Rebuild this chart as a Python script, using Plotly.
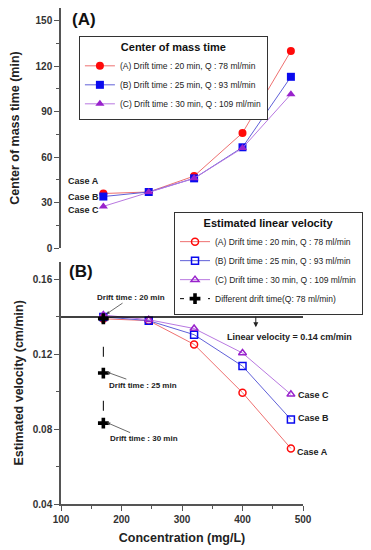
import plotly.graph_objects as go

# ---------------- data ----------------
conc = [170, 245, 320, 400, 480]
com_A = [36, 37, 47.5, 76, 130]
com_B = [34, 37, 46, 66.5, 113]
com_C = [27.5, 37, 46, 66, 101.5]
vel_A = [0.139, 0.138, 0.1253, 0.0995, 0.0697]
vel_B = [0.140, 0.138, 0.1305, 0.1137, 0.0852]
vel_C = [0.141, 0.1385, 0.1338, 0.1207, 0.0986]
drift_conc = [170, 170, 170]
drift_vel = [0.139, 0.110, 0.0832]
linear_velocity = 0.14

names_A = "(A) Drift time : 20 min, Q : 78 ml/min"
names_B = "(B) Drift time : 25 min, Q : 93 ml/min"
names_C = "(C) Drift time : 30 min, Q : 109 ml/min"
name_D = "Different drift time(Q: 78 ml/min)"

FONT = "Arial, Liberation Sans, sans-serif"
RED, RED_L = "#ff0a0a", "#ee7070"
BLUE, BLUE_L = "#0a0aee", "#6060d8"
PUR, PUR_L = "#9922cc", "#b878e0"
AX = "#555555"

fig = go.Figure()

# top panel: center of mass time
fig.add_trace(go.Scatter(x=conc, y=com_A, name=names_A, mode="lines+markers",
                         line=dict(color=RED_L, width=1), marker=dict(symbol="circle", size=8, color=RED),
                         xaxis="x2", yaxis="y2", legend="legend"))
fig.add_trace(go.Scatter(x=conc, y=com_B, name=names_B, mode="lines+markers",
                         line=dict(color=BLUE_L, width=1), marker=dict(symbol="square", size=8, color=BLUE),
                         xaxis="x2", yaxis="y2", legend="legend"))
fig.add_trace(go.Scatter(x=conc, y=com_C, name=names_C, mode="lines+markers",
                         line=dict(color=PUR_L, width=1), marker=dict(symbol="triangle-up", size=8, color=PUR),
                         xaxis="x2", yaxis="y2", legend="legend"))

# bottom panel: estimated velocity
fig.add_trace(go.Scatter(x=conc, y=vel_A, name=names_A, mode="lines+markers",
                         line=dict(color=RED_L, width=1),
                         marker=dict(symbol="circle-open", size=7, color=RED, line=dict(width=1.5)),
                         xaxis="x", yaxis="y", legend="legend2"))
fig.add_trace(go.Scatter(x=conc, y=vel_B, name=names_B, mode="lines+markers",
                         line=dict(color=BLUE_L, width=1),
                         marker=dict(symbol="square-open", size=7, color=BLUE, line=dict(width=1.5)),
                         xaxis="x", yaxis="y", legend="legend2"))
fig.add_trace(go.Scatter(x=conc, y=vel_C, name=names_C, mode="lines+markers",
                         line=dict(color=PUR_L, width=1),
                         marker=dict(symbol="triangle-up-open", size=7, color=PUR, line=dict(width=1.5)),
                         xaxis="x", yaxis="y", legend="legend2"))
fig.add_trace(go.Scatter(x=drift_conc, y=drift_vel, name=name_D, mode="lines+markers",
                         line=dict(color="black", width=1, dash="4px,24px,10px,16px"),
                         marker=dict(symbol="cross", size=9, color="black"),
                         xaxis="x", yaxis="y", legend="legend2"))

# linear velocity reference line
fig.add_shape(type="line", xref="x", yref="y", x0=100, x1=502,
              y0=linear_velocity, y1=linear_velocity, line=dict(color="black", width=1.5))

axis_common = dict(showline=True, linecolor=AX, linewidth=1.5, ticks="outside", ticklen=5,
                   tickcolor=AX, tickwidth=1.2, showgrid=False, zeroline=False, automargin=False,
                   tickfont=dict(family=FONT, size=10, color="#333"))

# page body has an 8px margin: figure pixels = picture pixels - 8
fig.update_layout(
    width=371, height=550,
    margin=dict(l=53, r=76, t=0, b=54, autoexpand=False),
    paper_bgcolor="white", plot_bgcolor="white",
    font=dict(family=FONT, color="#222"),
    showlegend=True,
    xaxis=dict(domain=[0, 1], range=[100, 500], anchor="y", tick0=100, dtick=100,
               tickprefix="<b>", ticksuffix="</b>",
               minor=dict(ticks="outside", ticklen=3, dtick=50, tickcolor=AX),
               title=dict(text="<b>Concentration (mg/L)</b>", font=dict(size=12.5, family=FONT, color="#222"),
                          standoff=9),
               **axis_common),
    yaxis=dict(domain=[0, 0.4885], range=[0.04, 0.1695], anchor="x", tick0=0.04, dtick=0.04,
               tickformat=".2f", tickprefix="<b>", ticksuffix="</b>",
               minor=dict(ticks="outside", ticklen=3, dtick=0.02, tickcolor=AX),
               title=dict(text="<b>Estimated velocity (cm/min)</b>", font=dict(size=12.5, family=FONT, color="#222"),
                          standoff=6),
               **axis_common),
    xaxis2=dict(domain=[0, 1], range=[100, 500], anchor="y2", visible=False, matches="x"),
    yaxis2=dict(domain=[0.516, 1], range=[0, 158.4], anchor="x2", tick0=0, dtick=30,
                tickprefix="<b>", ticksuffix="</b>",
                minor=dict(ticks="outside", ticklen=3, dtick=15, tickcolor=AX),
                title=dict(text="<b>Center of mass time (min)</b>", font=dict(size=12.5, family=FONT, color="#222"),
                           standoff=14),
                **axis_common),
    legend=dict(x=0.074, y=0.9435, xanchor="left", yanchor="top", bgcolor="white",
                bordercolor="#333", borderwidth=1, font=dict(size=8.5, family=FONT, color="#222"),
                title=dict(text="<b>Center of mass time</b>", side="top center",
                           font=dict(size=11, family=FONT, color="#111")),
                tracegroupgap=0, itemwidth=30),
    legend2=dict(x=0.467, y=0.589, xanchor="left", yanchor="top", bgcolor="white",
                 bordercolor="#333", borderwidth=1, font=dict(size=8.5, family=FONT, color="#222"),
                 title=dict(text="<b>Estimated linear velocity</b>", side="top center",
                            font=dict(size=11, family=FONT, color="#111")),
                 tracegroupgap=0, itemwidth=30),
)

ann_font = dict(family=FONT, size=9, color="#222")
annotations = [
    dict(text="<b>(A)</b>", xref="paper", yref="paper", x=0.037, y=0.976,
         xanchor="left", yanchor="middle", showarrow=False, font=dict(family=FONT, size=17, color="#111")),
    dict(text="<b>(B)</b>", xref="paper", yref="paper", x=0.025, y=0.468,
         xanchor="left", yanchor="middle", showarrow=False, font=dict(family=FONT, size=17, color="#111")),
    # case labels top
    dict(text="<b>Case A</b>", xref="x2", yref="y2", x=108, y=44, xanchor="left", showarrow=False, font=ann_font),
    dict(text="<b>Case B</b>", xref="x2", yref="y2", x=108, y=33.5, xanchor="left", showarrow=False, font=ann_font),
    dict(text="<b>Case C</b>", xref="x2", yref="y2", x=108, y=25, xanchor="left", showarrow=False, font=ann_font),
    # case labels bottom
    dict(text="<b>Case C</b>", xref="x", yref="y", x=489, y=0.0985, xanchor="left", showarrow=False, font=ann_font),
    dict(text="<b>Case B</b>", xref="x", yref="y", x=489, y=0.0857, xanchor="left", showarrow=False, font=ann_font),
    dict(text="<b>Case A</b>", xref="x", yref="y", x=486, y=0.068, xanchor="left", showarrow=False, font=ann_font),
    # linear velocity
    dict(text="", xref="x", yref="y", x=422, y=0.1345, ax=0, ay=-12, showarrow=True,
         arrowhead=2, arrowsize=1, arrowwidth=1, arrowcolor="#222"),
    dict(text="<b>Linear velocity = 0.14 cm/min</b>", xref="x", yref="y", x=478, y=0.129,
         showarrow=False, font=ann_font),
    # drift time annotations
    dict(text="<b>Drift time : 20 min</b>", xref="x", yref="y", x=175, y=0.1415, ax=25, ay=-17,
         showarrow=True, arrowhead=2, arrowsize=0.8, arrowwidth=0.8, arrowcolor="#444",
         font=dict(family=FONT, size=8, color="#222")),
    dict(text="<b>Drift time : 25 min</b>", xref="x", yref="y", x=176, y=0.1105, ax=36, ay=13,
         showarrow=True, arrowhead=2, arrowsize=0.8, arrowwidth=0.8, arrowcolor="#444",
         font=dict(family=FONT, size=8, color="#222")),
    dict(text="<b>Drift time : 30 min</b>", xref="x", yref="y", x=176, y=0.0835, ax=37, ay=16,
         showarrow=True, arrowhead=2, arrowsize=0.8, arrowwidth=0.8, arrowcolor="#444",
         font=dict(family=FONT, size=8, color="#222")),
]
fig.update_layout(annotations=annotations)

fig.write_html("out.html")
